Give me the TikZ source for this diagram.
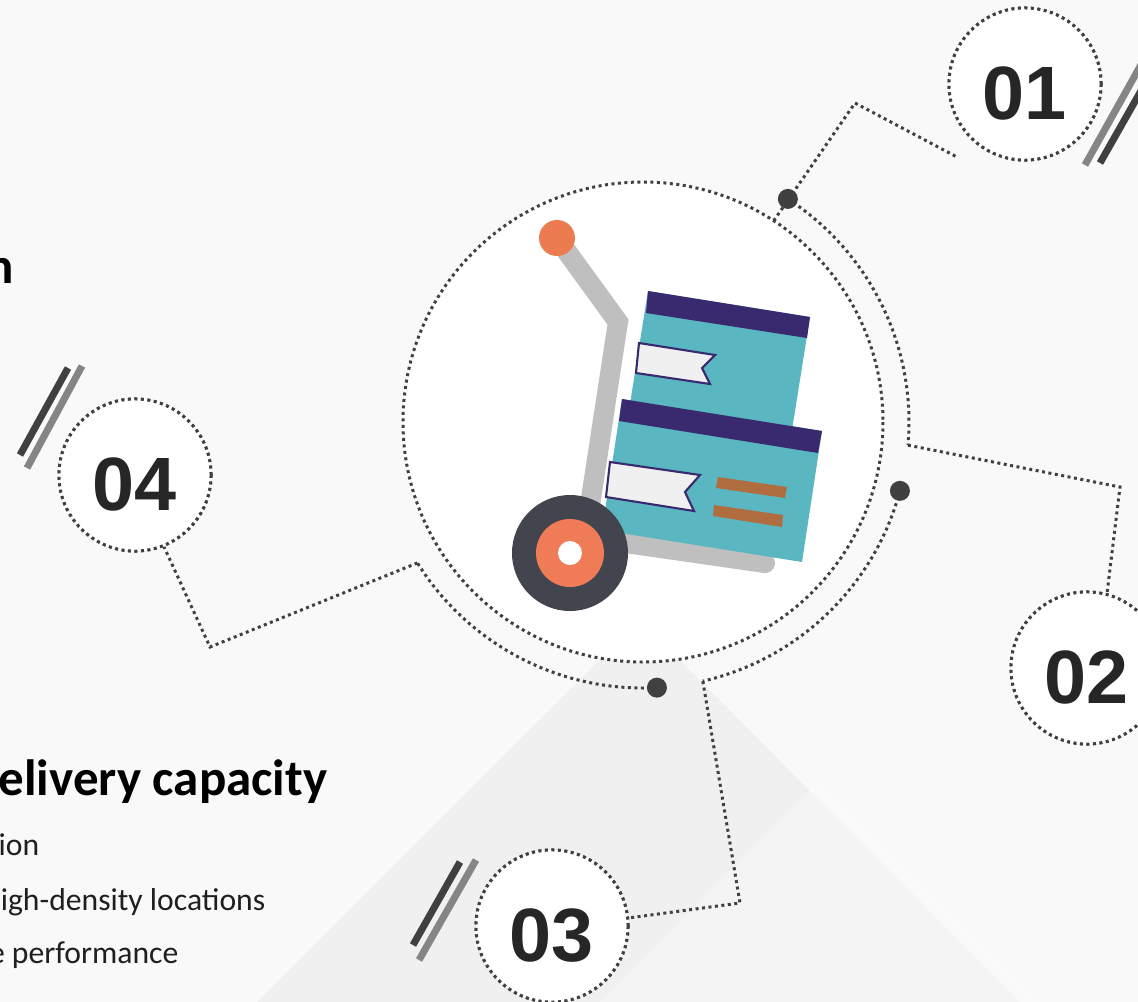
\documentclass[tikz,border=0pt]{standalone}
\usepackage{fontspec}
\setmainfont{Carlito}
\newfontfamily\numfont{Liberation Sans}

\definecolor{paper}{HTML}{F9F9F9}
\definecolor{wedge}{HTML}{F0F0F0}
\definecolor{ink}{HTML}{404040}
\definecolor{numgray}{HTML}{262626}
\definecolor{slashdark}{HTML}{404040}
\definecolor{slashlight}{HTML}{858585}
\definecolor{rod}{HTML}{BFBFBF}
\definecolor{knob}{HTML}{EC7B50}
\definecolor{lid}{HTML}{392A70}
\definecolor{boxteal}{HTML}{5AB6C0}
\definecolor{tag}{HTML}{F0F0F0}
\definecolor{stripe}{HTML}{B06E40}
\definecolor{tyre}{HTML}{43454E}
\definecolor{hub}{HTML}{EF7C56}

\tikzset{
  dotline/.style={ink, line width=0.85pt, dash pattern=on 0.85pt off 1pt},
  numring/.style={circle, draw=ink, fill=white, line width=0.85pt, dash pattern=on 0.85pt off 1pt,
    minimum size=1.52cm, inner sep=0pt, text=numgray,
    font=\numfont\bfseries\fontsize{21.5}{22}\selectfont, text height=20pt, text depth=0pt},
  joint/.style={circle, fill=ink, minimum size=0.2cm, inner sep=0pt},
  slash/.style={line width=2pt},
  heading/.style={anchor=base east, inner sep=0pt, font=\bfseries\fontsize{14.5}{16}\selectfont},
  bullet/.style={anchor=base east, inner sep=0pt, text=black!88, font=\fontsize{9}{11}\selectfont},
}

\begin{document}
\begin{tikzpicture}[x=0.01cm, y=-0.01cm]

\useasboundingbox (0,0) rectangle (1138,1002);
\clip (0,0) rectangle (1138,1002);

%draw the background
\fill[paper] (0,0) rectangle (1138,1002);
\fill[wedge] (257,1002) -- (640,620) -- (1020,1002) -- cycle;
\fill[white, opacity=0.3] (600,1002) -- (820,780) -- (1040,1002) -- cycle;

%draw the outer arcs with their joints
\coordinate (hub) at (643,422);
\path (hub) ++(-57:240) coordinate (c1) ++(-57:26) coordinate (j1);
\path (hub) ++(15:266) coordinate (j2);
\path (hub) ++(87:266) coordinate (j3);

\draw[dotline] (j1) arc[start angle=-57, end angle=5, radius=266] coordinate (a1);
\draw[dotline] (j2) arc[start angle=15, end angle=77, radius=266] coordinate (a2);
\draw[dotline] (j3) arc[start angle=87, end angle=148, radius=266] coordinate (a3);

%draw the number rings
\node[numring] (n01) at (1025,84) {01};
\node[numring] (n02) at (1087,668) {02};
\node[numring] (n03) at (552,926) {03};
\node[numring] (n04) at (135,475) {04};
\coordinate (e01) at (957,157);

%draw the connectors
\draw[dotline] (c1) -- (855,103) -- (e01);
\draw[dotline] (a1) -- (1120,487) -- (n02.75);
\draw[dotline] (a2) -- (740,903) -- (n03.6);
\draw[dotline] (a3) -- (210,647) -- (n04.-68);

\node[numring] at (n01) {01};
\node[numring] at (n02) {02};
\node[numring] at (n03) {03};
\node[numring] at (n04) {04};

%draw the main ring
\draw[dotline, fill=white] (hub) circle (240);

\node[joint] (d1) at (j1) {};
\node[joint] (d2) at (j2) {};
\node[joint] (d3) at (j3) {};

%draw the trolley
\draw[rod, line width=5.7pt] (557,238) -- (618,322) -- (590,505);
\draw[rod, line width=5.7pt, line cap=round] (570,535) -- (765,563);
\fill[knob] (557,238) circle (18);

\fill[boxteal] (648,291) -- (810,317) -- (792,430) -- (630,404) -- cycle;
\fill[lid] (648,291) -- (810,317) -- (807,338) -- (646,313) -- cycle;
\filldraw[fill=tag, draw=lid, line width=0.6pt] (639,343) -- (715,355) -- (702,368) -- (710,384) -- (636,373) -- cycle;

\fill[boxteal] (622,399) -- (822,431) -- (802,562) -- (602,530) -- cycle;
\fill[lid] (622,399) -- (822,431) -- (818,453) -- (619,421) -- cycle;
\filldraw[fill=tag, draw=lid, line width=0.6pt] (610,462) -- (700,475) -- (685,492) -- (694,511) -- (606,497) -- cycle;
\fill[stripe] (718,477) -- (787,487) -- (785,498) -- (716,488) -- cycle;
\fill[stripe] (714,505) -- (783,515) -- (782,527) -- (713,516) -- cycle;

\fill[tyre] (570,553) circle (58);
\fill[hub] (570,553) circle (34);
\fill[white] (570,553) circle (12);

%draw the slashes
\draw[slash, slashlight] (1085,165) -- (1142,63);
\draw[slash, slashdark] (1100,163) -- (1150,75);
\draw[slash, slashdark] (20,455) -- (68,368);
\draw[slash, slashlight] (27,468) -- (82,366);
\draw[slash, slashdark] (413,945) -- (460,862);
\draw[slash, slashlight] (419,960) -- (476,860);

%draw the text
\node[heading] (t1) at (15,283) {n};
\node[heading] (t2) at (328,795) {elivery capacity};
\node[bullet] (t3) at (40,855) {ion};
\node[bullet] (t4) at (266,910) {igh-density locations};
\node[bullet] (t5) at (179,963) {e performance};

\end{tikzpicture}
\end{document}
